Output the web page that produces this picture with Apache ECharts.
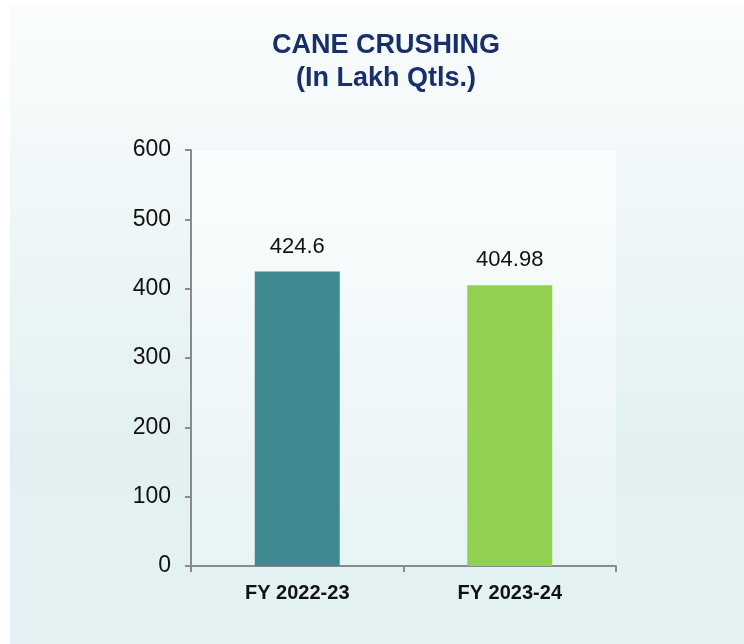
<!DOCTYPE html>
<html>
<head>
<meta charset="utf-8">
<script src="https://cdn.jsdelivr.net/npm/echarts@6/dist/echarts.min.js"></script>
<style>
  html, body { margin: 0; padding: 0; background: #ffffff; }
  #panel {
    position: absolute; left: 10px; top: 5px; width: 734px; height: 639px;
    background: linear-gradient(to bottom, #fafcfd 0%, #eef6f7 35%, #e2f0f1 70%, #e4f2f3 100%);
  }
  #chart { position: absolute; left: 0; top: 0; width: 744px; height: 644px; }
</style>
</head>
<body>
<div id="panel"></div>
<div id="chart"></div>
<script>
// 数据
var categories = ['FY 2022-23', 'FY 2023-24'];
var crushing = [424.6, 404.98];
var barColors = ['#3e8a91', '#92d050'];

var myChart = echarts.init(document.getElementById('chart'));
var option = {
  backgroundColor: 'transparent',
  animation: false,
  title: {
    text: 'CANE CRUSHING\n(In Lakh Qtls.)',
    left: 381,
    top: 24,
    textAlign: 'center',
    textStyle: {
      color: '#17306b',
      fontFamily: 'Liberation Sans, Arial, sans-serif',
      fontWeight: 'bold',
      fontSize: 27,
      lineHeight: 33
    }
  },
  grid: {
    left: 191,
    right: 128,
    top: 150,
    bottom: 78,
    show: true,
    borderWidth: 0,
    backgroundColor: {
      type: 'linear', x: 0, y: 0, x2: 0, y2: 1,
      colorStops: [
        { offset: 0, color: '#fbfdfe' },
        { offset: 1, color: '#e7f3f4' }
      ]
    }
  },
  xAxis: {
    type: 'category',
    data: categories,
    axisLine: { lineStyle: { color: '#8a8a8a', width: 2 } },
    axisTick: { show: true, length: 6, lineStyle: { color: '#8a8a8a', width: 2 } },
    axisLabel: {
      color: '#111',
      fontFamily: 'Liberation Sans, Arial, sans-serif',
      fontWeight: 'bold',
      fontSize: 20,
      margin: 17
    }
  },
  yAxis: {
    type: 'value',
    min: 0,
    max: 600,
    interval: 100,
    splitLine: { show: false },
    axisLine: { show: true, lineStyle: { color: '#8a8a8a', width: 2 } },
    axisTick: { show: true, length: 6, lineStyle: { color: '#8a8a8a', width: 2 } },
    axisLabel: {
      color: '#111',
      fontFamily: 'Liberation Sans, Arial, sans-serif',
      fontSize: 23,
      margin: 20
    }
  },
  series: [{
    type: 'bar',
    barWidth: '40%',
    data: crushing.map(function (v, i) {
      return { value: v, itemStyle: { color: barColors[i] } };
    }),
    label: {
      show: true,
      position: 'top',
      distance: 14,
      color: '#111',
      fontFamily: 'Liberation Sans, Arial, sans-serif',
      fontSize: 22
    }
  }]
};
myChart.setOption(option, true);
</script>
</body>
</html>
